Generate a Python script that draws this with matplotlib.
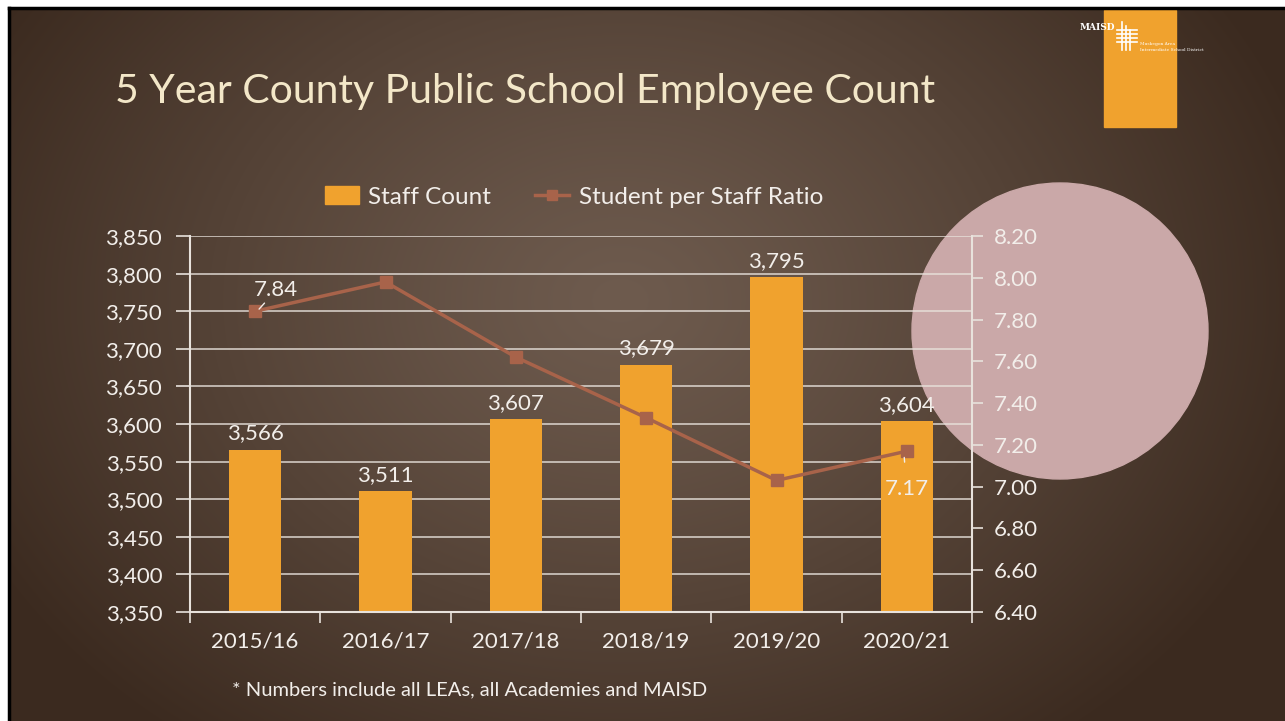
import numpy as np
import matplotlib.pyplot as plt
from matplotlib.patches import Rectangle, Circle
from matplotlib.lines import Line2D

plt.rcParams['font.family'] = ['Lato', 'DejaVu Sans']

years = ['2015/16', '2016/17', '2017/18', '2018/19', '2019/20', '2020/21']
staff_count = [3566, 3511, 3607, 3679, 3795, 3604]
staff_ratio = [7.84, 7.98, 7.62, 7.33, 7.03, 7.17]
ratio_labels = {0: '7.84', 5: '7.17'}

title = '5 Year County Public School Employee Count'
note = '* Numbers include all LEAs, all Academies and MAISD'

BAR = '#f0a22e'
LINE = '#a8634a'
TXT = '#f2eeea'
GRID = '#e8e2dc'
FS = 16

W, H = 1285, 721
fig = plt.figure(figsize=(W / 100, H / 100), dpi=100)

# slide background: radial brown gradient
bg = fig.add_axes([0, 0, 1, 1])
yy, xx = np.mgrid[0:H, 0:W]
r = np.sqrt(((xx - 620) / 720) ** 2 + ((yy - 300) / 560) ** 2)
t = np.clip(r, 0, 1) ** 1.2
c0 = np.array([0x6e, 0x5b, 0x4e]) / 255
c1 = np.array([0x3b, 0x2a, 0x1f]) / 255
img = c0[None, None, :] * (1 - t[..., None]) + c1[None, None, :] * t[..., None]
bg.imshow(img, extent=[0, W, H, 0], aspect='auto')
bg.set_xlim(0, W)
bg.set_ylim(H, 0)
bg.axis('off')

# white page margin + black frame
bg.add_patch(Rectangle((0, 0), W, 7, color='white', zorder=3))
bg.add_patch(Rectangle((0, 0), 8, H, color='white', zorder=3))
bg.plot([9, 9], [8, H], color='black', lw=2.5, zorder=4)
bg.plot([9, W], [8, 8], color='black', lw=2.5, zorder=4)

# pink circle behind the chart
bg.add_patch(Circle((1060, 331), 148, color='#caa8a8', zorder=2))

# logo block
bg.add_patch(Rectangle((1104, 10), 72, 117, color=BAR, zorder=2))
bg.text(1080, 27, 'MAISD', color='white', fontsize=6.5, fontweight='bold',
        family='DejaVu Serif', va='center', zorder=5)
for dy in (0, 4, 8, 12):
    bg.plot([1117, 1137], [30 + dy, 30 + dy], color='white', lw=1.2, zorder=5)
for dx in (0, 4, 8):
    bg.plot([1122 + dx, 1122 + dx], [22 + dx, 50], color='white', lw=1.2, zorder=5)
bg.text(1140, 44, 'Muskegon Area', color='white', fontsize=3.2,
        family='DejaVu Serif', va='center', zorder=5)
bg.text(1140, 50, 'Intermediate School District', color='white', fontsize=3.2,
        family='DejaVu Serif', va='center', zorder=5)

bg.text(115, 103, title, color='#f3e7c8', fontsize=29.5, va='baseline', zorder=5)
bg.text(232, 690, note, color=TXT, fontsize=14.5, va='center', zorder=5)

# chart
ax = fig.add_axes([190 / W, 109 / H, 782 / W, 376 / H])
ax.patch.set_alpha(0)
x = np.arange(len(years))
ax.set_xlim(-0.5, len(years) - 0.5)
ax.set_ylim(3350, 3850)
ax.set_yticks(np.arange(3350, 3851, 50))
ax.set_yticklabels([f'{v:,}' for v in range(3350, 3851, 50)])
ax.grid(axis='y', color=GRID, lw=1.2, alpha=0.85, zorder=0)
ax.set_axisbelow(True)

bars = ax.bar(x, staff_count, width=0.4, color=BAR, zorder=2)
for xi, v in zip(x, staff_count):
    ax.text(xi, v + 8, f'{v:,}', color=TXT, fontsize=FS, ha='center', va='bottom')

ax.set_xticks(x)
ax.set_xticklabels(years)
ax.set_xticks(np.arange(-0.5, len(years), 1), minor=True)
ax.tick_params(axis='x', which='major', length=0, pad=14, colors=TXT, labelsize=FS)
ax.tick_params(axis='x', which='minor', length=8, width=1.2, color=GRID, direction='out')
ax.tick_params(axis='y', length=10, width=1.2, color=GRID, colors=TXT,
               labelsize=FS, pad=10)

for s in ('top', 'right'):
    ax.spines[s].set_visible(False)
for s in ('left', 'bottom'):
    ax.spines[s].set_color(GRID)
    ax.spines[s].set_linewidth(1.5)

ax2 = ax.twinx()
ax2.set_ylim(6.4, 8.2)
ax2.set_yticks(np.arange(6.4, 8.21, 0.2))
ax2.set_yticklabels([f'{v:.2f}' for v in np.arange(6.4, 8.21, 0.2)])
ax2.tick_params(axis='y', length=8, width=1.2, color=GRID, colors=TXT,
                labelsize=FS, pad=8)
for s in ('top', 'left', 'bottom'):
    ax2.spines[s].set_visible(False)
ax2.spines['right'].set_color(GRID)
ax2.spines['right'].set_linewidth(1.5)
ax2.plot(x, staff_ratio, color=LINE, lw=2.5, marker='s', ms=8, zorder=3)

# ratio data labels with leader lines
i = 0
ax2.annotate(ratio_labels[i], xy=(x[i] + 0.03, staff_ratio[i] + 0.01),
             xytext=(x[i] + 0.16, staff_ratio[i] + 0.1), color=TXT, fontsize=FS,
             ha='center', va='center',
             arrowprops=dict(arrowstyle='-', color=TXT, lw=1, shrinkA=7, shrinkB=0))
i = 5
ax2.annotate(ratio_labels[i], xy=(x[i] - 0.02, staff_ratio[i] - 0.03),
             xytext=(x[i], staff_ratio[i] - 0.18), color=TXT, fontsize=FS,
             ha='center', va='center',
             arrowprops=dict(arrowstyle='-', color=TXT, lw=1, shrinkA=10, shrinkB=0))

handles = [Rectangle((0, 0), 1, 1, color=BAR),
           Line2D([], [], color=LINE, lw=2.5, marker='s', ms=7)]
fig.legend(handles, ['Staff Count', 'Student per Staff Ratio'], ncol=2,
           loc='center', bbox_to_anchor=(574 / W, 1 - 197 / H), frameon=False,
           fontsize=17.5, labelcolor=TXT, handlelength=1.4, handletextpad=0.4,
           columnspacing=1.8)

fig.savefig('out.png', dpi=100)
